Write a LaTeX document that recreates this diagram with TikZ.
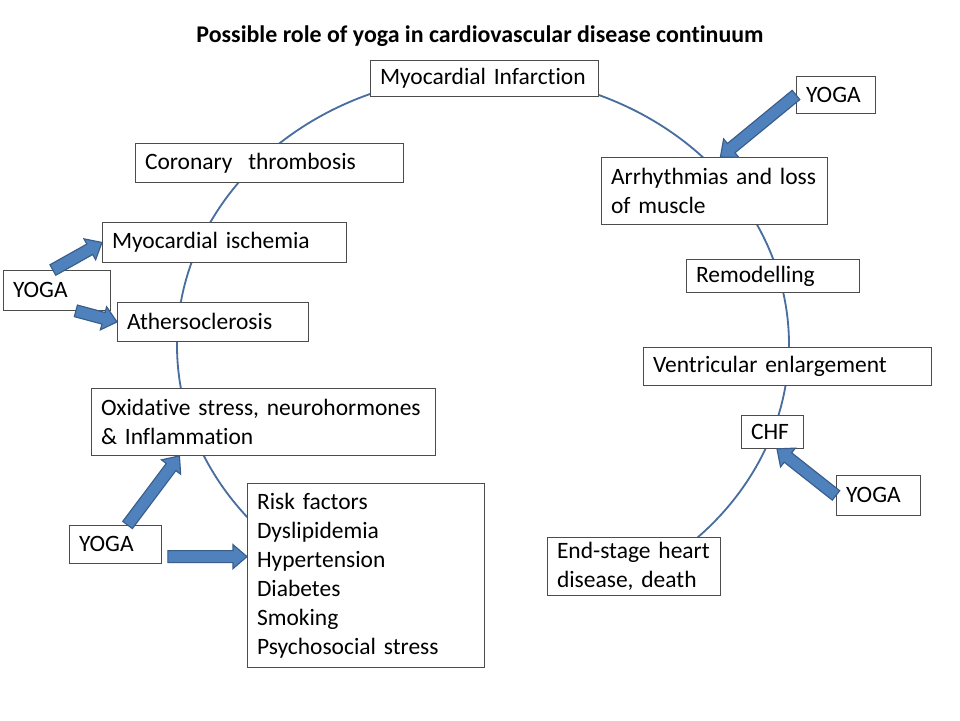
\documentclass[tikz,border=0pt]{standalone}
\usepackage{fontspec}
\setmainfont{Carlito}[Ligatures=NoCommon]
\usepackage{xcolor}
\usetikzlibrary{calc}

\definecolor{yogafill}{RGB}{79,129,189}
\definecolor{yogaedge}{RGB}{56,93,138}
\definecolor{cycleblue}{RGB}{72,110,160}
\newcommand{\lab}{\fontsize{16.7}{20.6}\selectfont}
% block arrow from #1 (tail) to #2 (tip)
\newcommand{\yogaarrow}[2]{%
  \coordinate (hb) at ($(#2)!3.5mm!(#1)$);
  \filldraw[yarrow] ($(#1)!1.5mm!90:(#2)$) -- ($(hb)!1.5mm!90:(#2)$)
    -- ($(hb)!3mm!90:(#2)$) -- (#2) -- ($(hb)!3mm!-90:(#2)$)
    -- ($(hb)!1.5mm!-90:(#2)$) -- ($(#1)!1.5mm!-90:(#2)$) -- cycle;
}

\begin{document}
\begin{tikzpicture}[x=0.25mm, y=-0.25mm,
  box/.style={draw=black!70, line width=0.6pt, fill=white, anchor=north west,
    align=left, inner xsep=2.4mm, inner ysep=0pt, font=\lab},
  yarrow/.style={fill=yogafill, draw=yogaedge, line width=0.8pt},
  continuum/.style={draw=cycleblue, line width=1.3pt}]
  \useasboundingbox[fill=white] (0,0) rectangle (960,720);

  \node[font=\fontsize{17}{20}\selectfont\bfseries] (title) at (480,36)
    {Possible role of yoga in cardiovascular disease continuum};

  % the continuum
  \draw[continuum] (483,345) ++(92:306 and 270)
    arc[start angle=92, end angle=417, x radius=306, y radius=270];

  % left side
  \node[box, text width=52.2mm, minimum height=9mm] (mi) at (370,60) {Myocardial Infarction};
  \node[box, text width=62.2mm, minimum height=9.75mm] (cor) at (135,143) {Coronary~ thrombosis};
  \node[box, text width=56.2mm, minimum height=10mm] (isch) at (102,222) {Myocardial ischemia};
  \node[box, text width=21.9mm, minimum height=10mm] (yogaA) at (3,270) {YOGA};
  \node[box, text width=42.9mm, minimum height=9.75mm] (ath) at (117,302) {Athersoclerosis};
  \node[box, text width=81.2mm, minimum height=16.75mm] (oxi) at (91,388)
    {Oxidative stress, neurohormones\\\& Inflammation};
  \node[box, text width=18.2mm, minimum height=9.5mm] (yogaB) at (69,525) {YOGA};
  \node[box, text width=54.4mm, minimum height=46mm] (risk) at (247,483)
    {Risk factors\\Dyslipidemia\\Hypertension\\Diabetes\\Smoking\\Psychosocial stress};

  % right side
  \node[box, text width=14.9mm, minimum height=9.25mm] (yogaC) at (796,76) {YOGA};
  \node[box, text width=51.7mm, minimum height=16.75mm] (arr) at (601,157)
    {Arrhythmias and loss\\of muscle};
  \node[box, text width=38.4mm, minimum height=8.25mm] (remo) at (686,259) {Remodelling};
  \node[box, text width=67.2mm, minimum height=9.5mm] (vent) at (643,347) {Ventricular enlargement};
  \node[box, text width=10.7mm, minimum height=8.25mm] (chf) at (741,415) {CHF};
  \node[box, text width=16.2mm, minimum height=10mm] (yogaD) at (836,475) {YOGA};
  \node[box, text width=38.4mm, minimum height=14.5mm] (end) at (547,537)
    {End-stage heart\\disease, death};

  % yoga arrows
  \yogaarrow{yogaA.101}{isch.west}
  \yogaarrow{yogaA.-47}{ath.west}
  \yogaarrow{yogaB.58}{oxi.202.7}
  \coordinate (dtip) at (risk.171.4);
  \coordinate (dtail) at ($(yogaB.east |- dtip)+(6,0)$);
  \yogaarrow{dtail}{dtip}
  \yogaarrow{yogaC.west}{arr.80}
  \yogaarrow{yogaD.west}{chf.-75}
\end{tikzpicture}
\end{document}
